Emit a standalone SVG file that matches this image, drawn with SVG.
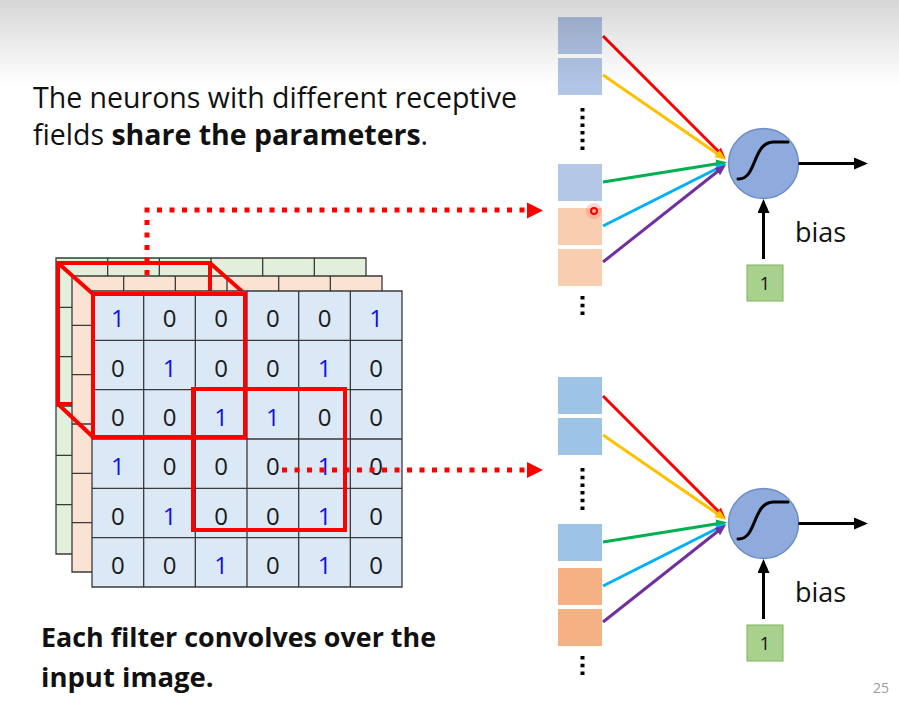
<svg xmlns="http://www.w3.org/2000/svg" width="899" height="705" viewBox="0 0 899 705">
<defs>
<style>
.t{font-family:"Open Sans","Noto Sans","Liberation Sans",sans-serif;fill:#111}
.b{font-weight:bold}
.dg{font-family:"Open Sans","Noto Sans","Liberation Sans",sans-serif;font-size:24px;text-anchor:middle;fill:#1a1a1a}
.one{fill:#1010e6}
.grid{stroke:#3a3a3a;stroke-width:1.3;fill:none}
.red{stroke:#f00;stroke-width:4;fill:none}
.dot{stroke:#f00;stroke-width:5;fill:none;stroke-dasharray:5 7.5}
.in{stroke-width:3;fill:none}
.blk{stroke:#000;stroke-width:3;fill:none}
.neu{fill:#8faadc;stroke:#6f8ec6;stroke-width:1.5}
.sig{stroke:#000;stroke-width:3;fill:none;stroke-linecap:round}
.bx1{fill:#a9d18e;stroke:#7eb35a;stroke-width:1}
.lbl{font-family:"Open Sans","Noto Sans","Liberation Sans",sans-serif;font-size:27px;fill:#111}
</style>
<linearGradient id="shade" x1="0" y1="0" x2="0" y2="1">
<stop offset="0" stop-color="#000" stop-opacity="0.16"/>
<stop offset="1" stop-color="#000" stop-opacity="0"/>
</linearGradient>
<marker id="mr" markerUnits="userSpaceOnUse" markerWidth="12" markerHeight="10" refX="6" refY="4.5" orient="auto"><path d="M0,0 L11,4.5 L0,9 z" fill="#f00"/></marker>
<marker id="my" markerUnits="userSpaceOnUse" markerWidth="12" markerHeight="10" refX="6" refY="4.5" orient="auto"><path d="M0,0 L11,4.5 L0,9 z" fill="#ffc000"/></marker>
<marker id="mg" markerUnits="userSpaceOnUse" markerWidth="12" markerHeight="10" refX="6" refY="4.5" orient="auto"><path d="M0,0 L11,4.5 L0,9 z" fill="#00b050"/></marker>
<marker id="mc" markerUnits="userSpaceOnUse" markerWidth="12" markerHeight="10" refX="6" refY="4.5" orient="auto"><path d="M0,0 L11,4.5 L0,9 z" fill="#00b0f0"/></marker>
<marker id="mp" markerUnits="userSpaceOnUse" markerWidth="12" markerHeight="10" refX="6" refY="4.5" orient="auto"><path d="M0,0 L11,4.5 L0,9 z" fill="#7030a0"/></marker>
<marker id="mk" markerUnits="userSpaceOnUse" markerWidth="16" markerHeight="14" refX="8" refY="6" orient="auto"><path d="M0,0 L14,6 L0,12 z" fill="#000"/></marker>
</defs>
<rect width="899" height="705" fill="#fff"/>

<g id="input-stack">
<g id="layer-green">
<rect x="56" y="258" width="310" height="296" fill="#e2efda"/>
<path class="grid" d="M56 258H366V554H56Z M107.67 258V554 M159.33 258V554 M211 258V554 M262.67 258V554 M314.33 258V554 M56 307.33H366 M56 356.67H366 M56 406H366 M56 455.33H366 M56 504.67H366"/>
<rect class="red" x="58" y="263" width="152" height="141"/>
</g>
<g id="layer-orange">
<rect x="72" y="276" width="310" height="296" fill="#fbe3d4"/>
<path class="grid" d="M72 276H382V572H72Z M123.67 276V572 M175.33 276V572 M227 276V572 M278.67 276V572 M330.33 276V572 M72 325.33H382 M72 374.67H382 M72 424H382 M72 473.33H382 M72 522.67H382"/>
<path class="red" d="M58 263L93 294 M210 263L245 294 M58 404L93 437 M210 263V294"/>
</g>
<g id="layer-front">
<rect x="92" y="291" width="310" height="296" fill="#dbe8f5"/>
<path class="grid" d="M92 291H402V587H92Z M143.67 291V587 M195.33 291V587 M247 291V587 M298.67 291V587 M350.33 291V587 M92 340.33H402 M92 389.67H402 M92 439H402 M92 488.33H402 M92 537.67H402"/>
<g class="dg">
<text x="117.8" y="327" class="one">1</text><text x="169.5" y="327">0</text><text x="221.2" y="327">0</text><text x="272.8" y="327">0</text><text x="324.5" y="327">0</text><text x="376.2" y="327" class="one">1</text>
<text x="117.8" y="376.5">0</text><text x="169.5" y="376.5" class="one">1</text><text x="221.2" y="376.5">0</text><text x="272.8" y="376.5">0</text><text x="324.5" y="376.5" class="one">1</text><text x="376.2" y="376.5">0</text>
<text x="117.8" y="425.8">0</text><text x="169.5" y="425.8">0</text><text x="221.2" y="425.8" class="one">1</text><text x="272.8" y="425.8" class="one">1</text><text x="324.5" y="425.8">0</text><text x="376.2" y="425.8">0</text>
<text x="117.8" y="475.2" class="one">1</text><text x="169.5" y="475.2">0</text><text x="221.2" y="475.2">0</text><text x="272.8" y="475.2">0</text><text x="324.5" y="475.2" class="one">1</text><text x="376.2" y="475.2">0</text>
<text x="117.8" y="524.5">0</text><text x="169.5" y="524.5" class="one">1</text><text x="221.2" y="524.5">0</text><text x="272.8" y="524.5">0</text><text x="324.5" y="524.5" class="one">1</text><text x="376.2" y="524.5">0</text>
<text x="117.8" y="573.8">0</text><text x="169.5" y="573.8">0</text><text x="221.2" y="573.8" class="one">1</text><text x="272.8" y="573.8">0</text><text x="324.5" y="573.8" class="one">1</text><text x="376.2" y="573.8">0</text>
</g>
<rect class="red" x="93" y="294" width="152" height="143"/>
<rect class="red" x="193" y="389" width="152" height="141"/>
</g>
</g>

<g id="neuron-top">
<rect x="558" y="17" width="44" height="37" fill="#b1c5e6"/>
<rect x="558" y="58" width="44" height="37" fill="#b1c5e6"/>
<path d="M582.5 108V154" stroke="#000" stroke-width="4" stroke-dasharray="3.5 4.2" fill="none"/>
<rect x="558" y="164" width="44" height="37" fill="#b4c7e7"/>
<rect x="558" y="208" width="44" height="37" fill="#f8cdb0"/>
<rect x="558" y="249" width="44" height="37" fill="#f8cdb0"/>
<path d="M582.5 296V316" stroke="#000" stroke-width="4" stroke-dasharray="3.5 4.2" fill="none"/>
<circle cx="594" cy="211" r="8" fill="#ff6060" opacity="0.25"/>
<circle cx="594" cy="211" r="3" fill="none" stroke="#f00" stroke-width="2"/>
<circle class="neu" cx="763.5" cy="163.5" r="35"/>
<path class="sig" d="M738 179 C757 180 752 143 773 142 L788 142"/>
<rect class="bx1" x="747" y="265" width="36" height="36"/>
<text x="765" y="290" text-anchor="middle" font-family="Open Sans, Noto Sans, sans-serif" font-size="18" fill="#111">1</text>
<text class="lbl" x="795" y="242">bias</text>
</g>

<g id="neuron-bottom">
<rect x="558" y="377" width="44" height="37" fill="#9dc3e6"/>
<rect x="558" y="418" width="44" height="37" fill="#9dc3e6"/>
<path d="M582.5 468V514" stroke="#000" stroke-width="4" stroke-dasharray="3.5 4.2" fill="none"/>
<rect x="558" y="524" width="44" height="37" fill="#9dc3e6"/>
<rect x="558" y="568" width="44" height="37" fill="#f4b183"/>
<rect x="558" y="609" width="44" height="37" fill="#f4b183"/>
<path d="M582.5 656V676" stroke="#000" stroke-width="4" stroke-dasharray="3.5 4.2" fill="none"/>
<circle class="neu" cx="763.5" cy="523.5" r="35"/>
<path class="sig" d="M738 539 C757 540 752 503 773 502 L788 502"/>
<rect class="bx1" x="747" y="625" width="36" height="36"/>
<text x="765" y="650" text-anchor="middle" font-family="Open Sans, Noto Sans, sans-serif" font-size="18" fill="#111">1</text>
<text class="lbl" x="795" y="602">bias</text>
</g>

<g id="connectors">
<path class="dot" d="M147 275V210H528"/>
<polygon points="527,202.5 543,210.5 527,218.5" fill="#f00"/>
<path class="dot" d="M282 470H528"/>
<polygon points="527,462 543,470 527,478" fill="#f00"/>

<path class="in" stroke="#f00" d="M603 36L722 155" marker-end="url(#mr)"/>
<path class="in" stroke="#ffc000" d="M603 75L722 157" marker-end="url(#my)"/>
<path class="in" stroke="#00b050" d="M603 182L722 163" marker-end="url(#mg)"/>
<path class="in" stroke="#00b0f0" d="M603 226L722 166" marker-end="url(#mc)"/>
<path class="in" stroke="#7030a0" d="M603 262L722 168" marker-end="url(#mp)"/>
<path class="blk" d="M798.5 163.5H862" marker-end="url(#mk)"/>
<path class="blk" d="M763.5 259V205" marker-end="url(#mk)"/>

<path class="in" stroke="#f00" d="M603 396L722 515" marker-end="url(#mr)"/>
<path class="in" stroke="#ffc000" d="M603 435L722 517" marker-end="url(#my)"/>
<path class="in" stroke="#00b050" d="M603 542L722 523" marker-end="url(#mg)"/>
<path class="in" stroke="#00b0f0" d="M603 586L722 526" marker-end="url(#mc)"/>
<path class="in" stroke="#7030a0" d="M603 622L722 528" marker-end="url(#mp)"/>
<path class="blk" d="M798.5 523.5H862" marker-end="url(#mk)"/>
<path class="blk" d="M763.5 619V565" marker-end="url(#mk)"/>
</g>

<g id="captions">
<text class="t" x="33" y="108" font-size="28.5">The neurons with different receptive</text>
<text class="t" x="33" y="145" font-size="28.5">fields <tspan class="b">share the parameters</tspan>.</text>
<text class="t b" x="41" y="647" font-size="27.5" textLength="395" lengthAdjust="spacingAndGlyphs">Each filter convolves over the</text>
<text class="t b" x="41" y="687" font-size="27.5">input image.</text>
<text x="873" y="693" font-family="Open Sans, Noto Sans, sans-serif" font-size="14" fill="#999">25</text>
</g>

<rect x="0" y="0" width="899" height="85" fill="url(#shade)"/>
</svg>
